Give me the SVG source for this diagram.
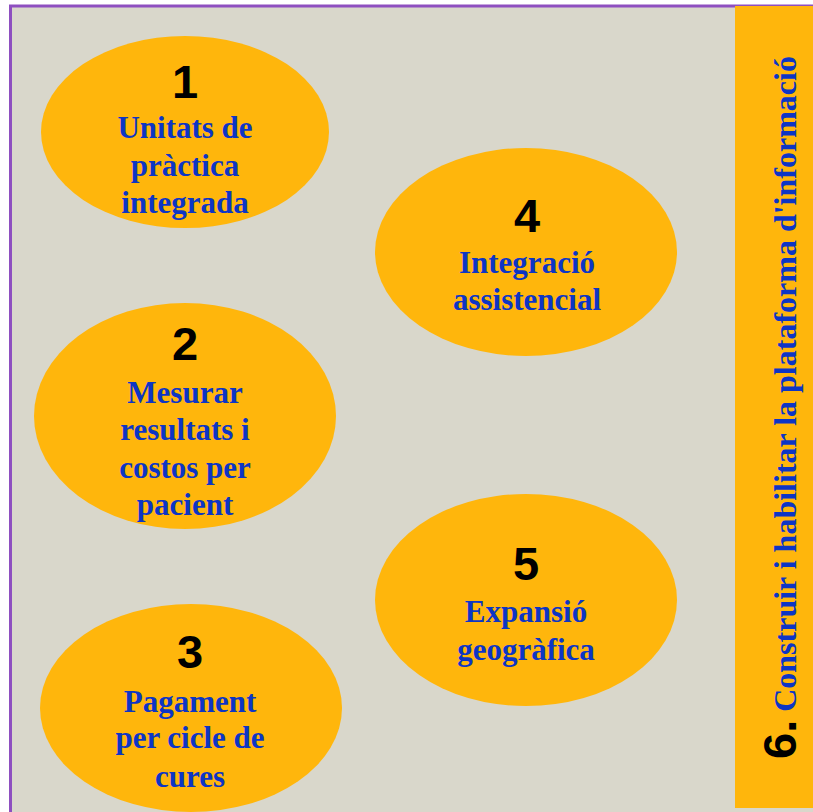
<svg xmlns="http://www.w3.org/2000/svg" width="813" height="812" viewBox="0 0 813 812">
<style>
.ell{fill:#FFB60C;}
.num{font-family:"Liberation Sans",Arial,sans-serif;font-weight:bold;font-size:47px;fill:#000;text-anchor:middle;}
.lbl{font-family:"Liberation Serif","Times New Roman",serif;font-weight:bold;font-size:31px;fill:#0D35C5;text-anchor:middle;}
</style>
<rect x="0" y="0" width="813" height="812" fill="#FFFFFF"/>
<rect x="10.5" y="6" width="810" height="812" fill="#D9D7CB" stroke="#8E4FC0" stroke-width="3"/>
<g id="node6">
<rect x="735" y="6" width="80" height="802" fill="#FFB60C"/>
<text transform="translate(796,759) rotate(-90)"><tspan font-family="'Liberation Sans',Arial,sans-serif" font-weight="bold" font-size="47" fill="#000">6.</tspan><tspan font-family="'Liberation Serif','Times New Roman',serif" font-weight="bold" font-size="32" fill="#0D35C5"> Construir i habilitar la plataforma d'informació</tspan></text>
</g>
<g id="node1">
<ellipse class="ell" cx="185" cy="132" rx="144" ry="96"/>
<text class="num" x="185" y="98">1</text>
<text class="lbl" x="185" y="138">Unitats de</text>
<text class="lbl" x="185" y="176">pràctica</text>
<text class="lbl" x="185" y="213">integrada</text>
</g>
<g id="node4">
<ellipse class="ell" cx="526" cy="252" rx="151" ry="104"/>
<text class="num" x="527" y="232">4</text>
<text class="lbl" x="527" y="273">Integració</text>
<text class="lbl" x="527" y="310">assistencial</text>
</g>
<g id="node2">
<ellipse class="ell" cx="185" cy="416" rx="151" ry="113"/>
<text class="num" x="185" y="360">2</text>
<text class="lbl" x="185" y="403">Mesurar</text>
<text class="lbl" x="185" y="440">resultats i</text>
<text class="lbl" x="185" y="478">costos per</text>
<text class="lbl" x="185" y="515">pacient</text>
</g>
<g id="node5">
<ellipse class="ell" cx="526" cy="600" rx="151" ry="106"/>
<text class="num" x="526" y="580">5</text>
<text class="lbl" x="526" y="622">Expansió</text>
<text class="lbl" x="526" y="660">geogràfica</text>
</g>
<g id="node3">
<ellipse class="ell" cx="191" cy="708" rx="151" ry="104"/>
<text class="num" x="190" y="668">3</text>
<text class="lbl" x="190" y="712">Pagament</text>
<text class="lbl" x="190" y="748">per cicle de</text>
<text class="lbl" x="190" y="787">cures</text>
</g>
<g id="connectors"/>
</svg>
